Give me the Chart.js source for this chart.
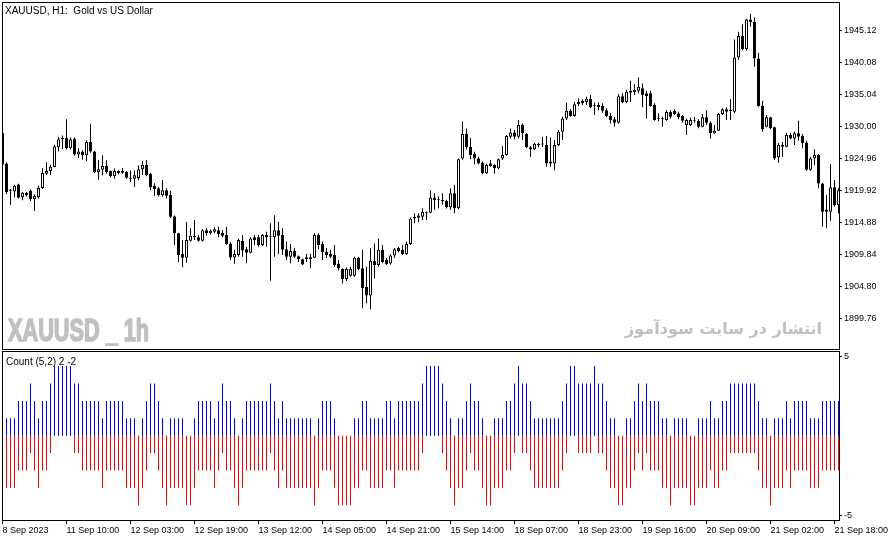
<!DOCTYPE html>
<html>
<head>
<meta charset="utf-8">
<script src="https://cdn.jsdelivr.net/npm/chart.js@4.4.0/dist/chart.umd.min.js"></script>
<style>
  html, body { margin: 0; padding: 0; background: #fff; }
  #wrap { position: relative; width: 892px; height: 541px; overflow: hidden; }
  #priceBox { position: absolute; left: 0; top: 0; width: 892px; height: 350px; }
  #countBox { position: absolute; left: 0; top: 350px; width: 892px; height: 191px; }
</style>
</head>
<body>
<div id="wrap">
  <div id="priceBox"><canvas id="price" width="892" height="350"></canvas></div>
  <div id="countBox"><canvas id="count" width="892" height="191"></canvas></div>
</div>
<script>
// XAUUSD H1 candles, first one is the half hidden bar at the left edge
const firstBar = -1;

const opens = [
  1928.9, 1924.1, 1920.0, 1919.7, 1920.8, 1918.8, 1919.5, 1919.8, 1918.5, 1918.8,
  1920.25, 1922.5, 1922.9, 1923.55, 1926.65, 1927.9, 1928.15, 1926.5, 1928.0, 1925.5,
  1926.0, 1925.4, 1927.5, 1926.0, 1922.75, 1923.1, 1923.7, 1922.9, 1922.1, 1922.9,
  1922.9, 1922.75, 1921.9, 1921.7, 1921.8, 1923.2, 1923.85, 1922.45, 1920.55, 1920.2,
  1919.15, 1919.9, 1919.15, 1915.8, 1913.1, 1909.85, 1909.25, 1911.95, 1912.7, 1912.5,
  1911.95, 1913.6, 1913.1, 1913.35, 1913.6, 1913.2, 1912.85, 1911.5, 1909.3, 1909.7,
  1911.95, 1910.6, 1910.05, 1912.5, 1912.5, 1911.25, 1912.85, 1912.5, 1912.5, 1913.6,
  1912.85, 1910.6, 1909.4, 1910.3, 1909.5, 1909.0, 1909.35, 1909.0, 1909.25, 1912.85,
  1911.4, 1910.2, 1909.85, 1909.7, 1908.25, 1907.5, 1905.9, 1906.4, 1906.4, 1909.25,
  1907.6, 1904.7, 1903.3, 1908.75, 1908.1, 1910.5, 1908.9, 1908.35, 1909.6, 1910.8,
  1910.5, 1909.85, 1911.4, 1915.7, 1915.55, 1915.7, 1916.4, 1916.35, 1918.75, 1918.4,
  1918.3, 1918.2, 1917.2, 1919.4, 1917.05, 1924.9, 1928.75, 1926.75, 1925.6, 1924.9,
  1924.2, 1922.55, 1924.1, 1923.85, 1923.35, 1924.9, 1925.45, 1928.3, 1929.0, 1928.3,
  1930.15, 1928.75, 1926.65, 1926.35, 1927.0, 1927.1, 1927.0, 1924.4, 1924.1, 1927.0,
  1929.1, 1931.2, 1932.4, 1931.6, 1933.45, 1934.0, 1933.8, 1934.3, 1933.1, 1933.35,
  1933.15, 1932.5, 1931.6, 1931.05, 1930.5, 1934.7, 1933.8, 1935.55, 1935.35, 1935.55,
  1935.95, 1935.15, 1935.15, 1933.3, 1931.05, 1931.1, 1930.95, 1932.2, 1932.4, 1932.0,
  1931.6, 1930.15, 1930.15, 1930.85, 1930.85, 1929.9, 1931.4, 1930.5, 1928.85, 1929.25,
  1931.9, 1932.65, 1932.4, 1932.25, 1940.8, 1944.2, 1942.1, 1946.8, 1946.4, 1940.65,
  1933.15, 1929.9, 1931.4, 1929.8, 1925.1, 1927.0, 1926.75, 1928.6, 1928.05, 1928.85,
  1928.45, 1927.4, 1923.1, 1924.9, 1925.45, 1920.95, 1916.5, 1916.5, 1920.35, 1917.55
];

const highs = [
  1929.4, 1924.3, 1920.1, 1920.75, 1920.9, 1919.6, 1919.6, 1920.0, 1919.2, 1920.6,
  1923.4, 1924.3, 1923.9, 1927.05, 1928.3, 1928.5, 1931.05, 1928.2, 1928.2, 1926.5,
  1926.2, 1927.75, 1930.35, 1926.1, 1924.65, 1925.4, 1924.6, 1923.0, 1923.3, 1923.0,
  1923.4, 1922.9, 1923.0, 1923.0, 1923.8, 1924.5, 1924.65, 1922.6, 1921.0, 1920.35,
  1921.5, 1920.2, 1919.8, 1915.9, 1913.2, 1912.05, 1914.9, 1913.9, 1915.2, 1912.85,
  1913.8, 1913.9, 1913.7, 1914.05, 1914.15, 1913.6, 1914.15, 1911.7, 1910.5, 1912.3,
  1912.85, 1911.0, 1912.5, 1912.85, 1912.85, 1913.0, 1913.35, 1914.7, 1915.95, 1914.9,
  1913.9, 1911.8, 1911.4, 1910.75, 1909.6, 1909.1, 1909.9, 1909.9, 1913.1, 1913.1,
  1911.8, 1910.8, 1910.5, 1911.25, 1908.9, 1907.6, 1907.7, 1907.85, 1909.4, 1909.4,
  1910.5, 1907.85, 1910.75, 1911.5, 1912.3, 1911.25, 1909.2, 1909.8, 1910.8, 1911.0,
  1911.25, 1911.8, 1915.6, 1916.25, 1916.25, 1917.05, 1916.5, 1919.9, 1919.4, 1918.9,
  1919.4, 1918.4, 1920.2, 1920.7, 1924.9, 1930.7, 1929.6, 1928.1, 1925.95, 1925.15,
  1924.4, 1924.1, 1924.65, 1924.0, 1924.9, 1926.85, 1928.6, 1929.6, 1929.37, 1930.95,
  1930.4, 1928.9, 1926.85, 1927.35, 1927.4, 1928.3, 1928.45, 1928.2, 1927.8, 1929.37,
  1931.45, 1933.7, 1932.65, 1933.8, 1934.35, 1934.2, 1934.6, 1934.9, 1933.7, 1933.7,
  1933.6, 1932.8, 1932.1, 1931.45, 1935.05, 1935.15, 1935.7, 1937.15, 1936.6, 1937.65,
  1936.7, 1935.55, 1935.55, 1933.6, 1932.0, 1931.45, 1932.5, 1932.5, 1932.65, 1932.25,
  1931.75, 1931.2, 1931.35, 1931.45, 1931.05, 1931.9, 1932.5, 1930.7, 1930.15, 1932.05,
  1932.8, 1932.95, 1934.2, 1943.65, 1944.85, 1946.05, 1946.9, 1947.65, 1947.1, 1941.55,
  1934.0, 1931.75, 1931.45, 1929.9, 1927.35, 1927.5, 1928.95, 1928.85, 1929.1, 1930.85,
  1928.75, 1927.7, 1925.15, 1926.35, 1925.6, 1921.05, 1919.15, 1924.0, 1921.5, 1920.2
];

const lows = [
  1923.7, 1919.3, 1917.6, 1918.8, 1918.6, 1918.3, 1918.9, 1918.2, 1916.6, 1918.6,
  1920.1, 1922.3, 1922.3, 1923.5, 1926.0, 1926.4, 1926.3, 1926.3, 1925.3, 1924.95,
  1924.7, 1924.45, 1925.8, 1922.6, 1921.55, 1922.25, 1922.5, 1921.9, 1921.7, 1922.4,
  1922.5, 1921.7, 1921.2, 1920.4, 1921.45, 1922.3, 1922.1, 1919.9, 1919.0, 1918.9,
  1918.9, 1918.6, 1915.5, 1911.25, 1908.6, 1907.75, 1908.45, 1911.8, 1912.05, 1911.8,
  1911.8, 1912.7, 1912.9, 1913.1, 1912.5, 1912.5, 1911.3, 1908.9, 1908.3, 1909.4,
  1909.4, 1908.4, 1909.95, 1911.25, 1911.0, 1911.1, 1911.0, 1905.65, 1909.4, 1909.85,
  1909.7, 1908.9, 1908.4, 1909.2, 1908.6, 1908.1, 1908.6, 1907.6, 1909.2, 1910.6,
  1908.9, 1909.2, 1909.2, 1907.85, 1907.3, 1905.2, 1905.6, 1906.25, 1906.25, 1907.3,
  1901.3, 1902.1, 1901.1, 1906.0, 1907.85, 1908.4, 1908.1, 1908.2, 1909.2, 1910.1,
  1909.7, 1909.7, 1911.25, 1914.7, 1914.85, 1915.2, 1915.2, 1916.25, 1916.8, 1917.05,
  1917.6, 1917.0, 1916.8, 1916.25, 1916.9, 1924.7, 1926.3, 1924.75, 1924.0, 1924.0,
  1922.4, 1922.45, 1923.6, 1922.5, 1923.2, 1924.65, 1925.3, 1928.05, 1927.9, 1928.05,
  1927.8, 1926.5, 1925.15, 1926.2, 1926.65, 1926.65, 1923.6, 1923.6, 1923.05, 1926.85,
  1927.8, 1930.95, 1931.45, 1931.45, 1933.15, 1933.3, 1933.3, 1932.8, 1931.75, 1932.5,
  1932.1, 1931.4, 1930.4, 1929.9, 1930.4, 1933.6, 1933.6, 1933.8, 1934.9, 1935.15,
  1932.95, 1931.2, 1933.05, 1930.85, 1930.7, 1929.9, 1930.85, 1931.2, 1931.75, 1931.05,
  1930.5, 1928.6, 1930.0, 1930.5, 1929.65, 1929.8, 1930.15, 1928.05, 1928.8, 1929.25,
  1931.75, 1930.95, 1930.95, 1932.0, 1940.4, 1941.95, 1941.85, 1945.65, 1939.35, 1933.05,
  1929.1, 1929.8, 1929.5, 1924.65, 1924.2, 1925.15, 1926.65, 1927.9, 1927.0, 1927.7,
  1926.5, 1922.95, 1922.95, 1923.85, 1920.2, 1914.15, 1913.9, 1915.1, 1917.3, 1916.25
];

const closes = [
  1923.9, 1919.6, 1919.8, 1920.6, 1918.7, 1919.5, 1919.1, 1918.5, 1919.0, 1920.25,
  1922.6, 1922.9, 1923.6, 1926.8, 1927.9, 1928.15, 1926.5, 1927.9, 1925.5, 1926.0,
  1925.4, 1927.5, 1926.0, 1922.75, 1923.2, 1923.7, 1922.75, 1922.1, 1922.9, 1922.6,
  1922.65, 1921.85, 1921.7, 1922.25, 1923.2, 1923.9, 1922.3, 1920.35, 1920.1, 1919.15,
  1919.9, 1919.0, 1915.7, 1913.1, 1909.7, 1909.25, 1912.05, 1912.7, 1912.5, 1911.95,
  1913.6, 1913.1, 1913.5, 1913.75, 1913.0, 1912.7, 1911.4, 1909.3, 1909.85, 1912.05,
  1910.4, 1910.05, 1912.3, 1912.05, 1911.25, 1912.85, 1912.5, 1912.55, 1913.6, 1912.7,
  1910.5, 1909.4, 1910.3, 1909.4, 1909.0, 1908.2, 1909.0, 1909.35, 1912.85, 1911.25,
  1910.1, 1909.7, 1909.4, 1908.1, 1907.6, 1905.9, 1907.5, 1907.5, 1909.25, 1907.5,
  1904.5, 1903.3, 1908.75, 1908.1, 1910.5, 1908.6, 1908.25, 1909.6, 1910.6, 1910.3,
  1909.85, 1911.4, 1915.45, 1915.45, 1915.9, 1916.5, 1916.35, 1918.75, 1918.35, 1918.3,
  1918.2, 1917.2, 1919.4, 1917.05, 1924.75, 1928.75, 1926.65, 1925.45, 1924.9, 1924.1,
  1922.55, 1923.85, 1923.7, 1923.35, 1924.75, 1925.45, 1928.45, 1929.0, 1928.3, 1930.15,
  1928.85, 1926.65, 1926.35, 1927.2, 1927.2, 1927.1, 1924.1, 1924.1, 1927.0, 1929.1,
  1931.2, 1932.4, 1931.6, 1933.45, 1933.8, 1933.6, 1934.3, 1932.95, 1933.15, 1933.0,
  1932.4, 1931.6, 1930.95, 1930.5, 1934.7, 1933.8, 1935.4, 1935.25, 1935.7, 1936.2,
  1934.9, 1934.7, 1933.15, 1930.95, 1931.1, 1931.05, 1932.2, 1931.45, 1931.9, 1931.4,
  1930.85, 1930.95, 1930.95, 1930.85, 1929.9, 1931.4, 1930.5, 1928.85, 1929.25, 1931.9,
  1932.65, 1932.25, 1932.35, 1940.8, 1944.2, 1942.1, 1946.8, 1946.4, 1940.65, 1933.15,
  1929.5, 1931.4, 1929.65, 1924.9, 1927.0, 1926.75, 1928.6, 1928.05, 1928.85, 1928.3,
  1927.3, 1923.1, 1924.9, 1925.45, 1920.95, 1916.5, 1916.8, 1920.35, 1917.55, 1919.9
];

// Count (5,2): up-count per bar from bar 0; the down bar is upCount - 4
const upCount = [
  1, 1, 1, 2, 2, 2, 3, 2, 1, 2, 2, 3, 4, 4, 4, 4, 4, 3, 3, 2,
  2, 2, 2, 2, 1, 2, 2, 2, 2, 2, 1, 1, 1, 0, 1, 2, 3, 3, 2, 1,
  0, 1, 1, 1, 1, 0, 0, 1, 2, 2, 2, 2, 1, 2, 3, 2, 2, 1, 0, 1,
  2, 2, 2, 2, 2, 2, 3, 2, 1, 2, 1, 1, 1, 1, 1, 1, 1, 0, 1, 2,
  2, 2, 1, 0, 0, 0, 0, 1, 1, 2, 2, 1, 1, 1, 1, 2, 2, 1, 2, 2,
  2, 2, 2, 2, 3, 4, 4, 4, 4, 3, 2, 1, 0, 1, 1, 2, 3, 2, 2, 1,
  0, 0, 1, 1, 1, 2, 2, 3, 4, 3, 3, 2, 1, 1, 1, 1, 1, 1, 1, 2,
  3, 4, 4, 3, 3, 3, 3, 4, 3, 3, 2, 1, 1, 0, 0, 1, 1, 2, 3, 2,
  3, 2, 2, 2, 1, 1, 0, 1, 1, 1, 1, 0, 0, 1, 1, 1, 2, 1, 1, 2,
  2, 3, 3, 3, 3, 3, 3, 3, 2, 1, 1, 0, 1, 1, 1, 2, 1, 2, 2, 2,
  2, 1, 1, 1, 2, 2, 2, 2, 2
];
const countWindow = 4;

const priceTicks = [1945.12, 1940.08, 1935.04, 1930.00, 1924.96, 1919.92, 1914.88, 1909.84, 1904.80, 1899.76];
const dateTickBars = [-1, 15, 31, 47, 63, 79, 95, 111, 127, 143, 159, 175, 191, 207];
const dateLabels = ['8 Sep 2023', '11 Sep 10:00', '12 Sep 03:00', '12 Sep 19:00', '13 Sep 12:00',
  '14 Sep 05:00', '14 Sep 21:00', '15 Sep 14:00', '18 Sep 07:00', '18 Sep 23:00',
  '19 Sep 16:00', '20 Sep 09:00', '21 Sep 02:00', '21 Sep 18:00'];

Chart.defaults.font.family = "'Liberation Sans', Arial, sans-serif";
Chart.defaults.color = '#000';

const X_MIN = -0.875, X_MAX = 208.125;
const AXIS_W = 53;
const axisFont = { family: "'Liberation Sans', Arial, sans-serif", size: 9 };

// frame round the plot plus the captions that sit inside it
function framePlugin(id, drawText) {
  return {
    id,
    beforeDatasetsDraw(chart) {
      const ctx = chart.ctx;
      ctx.save();
      drawText(ctx, chart.chartArea);
      ctx.restore();
    },
    afterDatasetsDraw(chart) {
      const { ctx, chartArea: a } = chart;
      ctx.save();
      ctx.strokeStyle = '#000';
      ctx.lineWidth = 1;
      ctx.strokeRect(a.left - 0.5, a.top - 0.5, a.right - a.left + 1, a.bottom - a.top + 1);
      ctx.restore();
    }
  };
}

const xs = opens.map((_, i) => i + firstBar);
const wicks = xs.map((x, i) => ({ x, y: [lows[i], highs[i]] }));
const bodies = xs.map((x, i) => ({ x, y: [opens[i], closes[i]] }));
const bodyFill = xs.map((_, i) => closes[i] > opens[i] ? '#ffffff' : '#000000');

new Chart(document.getElementById('price'), {
  type: 'bar',
  data: {
    datasets: [
      { data: wicks, backgroundColor: '#000', barThickness: 1, order: 2, inflateAmount: 0 },
      { data: bodies, backgroundColor: bodyFill, borderColor: '#000', borderWidth: 1,
        borderSkipped: false, barThickness: 3, minBarLength: 1, order: 1, inflateAmount: 0 }
    ]
  },
  options: {
    responsive: false,
    devicePixelRatio: 1,
    animation: false,
    layout: { padding: { left: 3, top: 3, right: 0, bottom: 1 } },
    plugins: { legend: { display: false }, tooltip: { enabled: false } },
    datasets: { bar: { grouped: false } },
    scales: {
      x: { type: 'linear', min: X_MIN, max: X_MAX, offset: false, grid: { offset: false }, display: false },
      y: {
        position: 'right',
        min: 1894.88,
        max: 1949.38,
        border: { display: false },
        grid: { drawOnChartArea: false, drawTicks: true, tickLength: 3, tickColor: '#000' },
        ticks: { font: axisFont, padding: 2, callback: v => v.toFixed(2) },
        afterBuildTicks: s => { s.ticks = priceTicks.map(v => ({ value: v })); },
        afterFit: s => { s.width = AXIS_W; s.paddingTop = 0; s.paddingBottom = 0; }
      }
    }
  },
  plugins: [framePlugin('priceFrame', (ctx, a) => {
    ctx.fillStyle = '#000';
    ctx.font = "10px 'Liberation Sans', Arial, sans-serif";
    ctx.textBaseline = 'alphabetic';
    ctx.fillText('XAUUSD, H1:  Gold vs US Dollar', 5, 14);
    // watermark, squeezed sideways to get the narrow heavy look
    ctx.fillStyle = '#c0c0c0';
    ctx.strokeStyle = '#c0c0c0';
    ctx.lineWidth = 1.6;
    ctx.save();
    ctx.translate(8, 341);
    ctx.scale(0.7, 1);
    ctx.font = "bold 31px 'Liberation Sans', sans-serif";
    ctx.fillText('XAUUSD _ 1h', 0, 0);
    ctx.strokeText('XAUUSD _ 1h', 0, 0);
    ctx.restore();
    ctx.font = "bold 16px 'DejaVu Sans', sans-serif";
    ctx.textAlign = 'right';
    ctx.fillText('انتشار در سایت سودآموز', 822, 334);
  })]
});

const countXs = upCount.map((_, i) => i);
const upBars = countXs.map((x, i) => ({ x, y: upCount[i] }));
const downBars = countXs.map((x, i) => ({ x, y: upCount[i] - countWindow }));

new Chart(document.getElementById('count'), {
  type: 'bar',
  data: {
    datasets: [
      { data: upBars, backgroundColor: '#0000ff', barThickness: 1, inflateAmount: 0 },
      { data: downBars, backgroundColor: '#ff0000', barThickness: 1, inflateAmount: 0 }
    ]
  },
  options: {
    responsive: false,
    devicePixelRatio: 1,
    animation: false,
    layout: { padding: { left: 3, top: 2, right: 0, bottom: 0 } },
    plugins: { legend: { display: false }, tooltip: { enabled: false } },
    datasets: { bar: { grouped: false } },
    scales: {
      x: {
        type: 'linear', min: X_MIN, max: X_MAX, offset: false,
        border: { display: false },
        grid: { offset: false, drawOnChartArea: false, drawTicks: true, tickLength: 4, tickColor: '#000' },
        ticks: { font: axisFont, padding: 1, align: 'start', maxRotation: 0, autoSkip: false,
          callback: (v, i) => dateLabels[i] },
        afterBuildTicks: s => { s.ticks = dateTickBars.map(v => ({ value: v })); },
        afterFit: s => { s.height = 21; s.paddingLeft = 0; s.paddingRight = 0; }
      },
      y: {
        position: 'right',
        min: -4.845,
        max: 4.81,
        border: { display: false },
        grid: { drawOnChartArea: false, drawTicks: true, tickLength: 3, tickColor: '#000' },
        ticks: { font: axisFont, padding: 2, callback: v => v > 0 ? '5' : '-5' },
        afterBuildTicks: s => { s.ticks = [{ value: 4.57 }, { value: -4.57 }]; },
        afterFit: s => { s.width = AXIS_W; s.paddingTop = 0; s.paddingBottom = 0; }
      }
    }
  },
  plugins: [framePlugin('countFrame', (ctx) => {
    ctx.fillStyle = '#000';
    ctx.font = "10px 'Liberation Sans', Arial, sans-serif";
    ctx.textBaseline = 'alphabetic';
    ctx.fillText('Count (5,2) 2 -2', 6, 15);
  })]
});
</script>
</body>
</html>
